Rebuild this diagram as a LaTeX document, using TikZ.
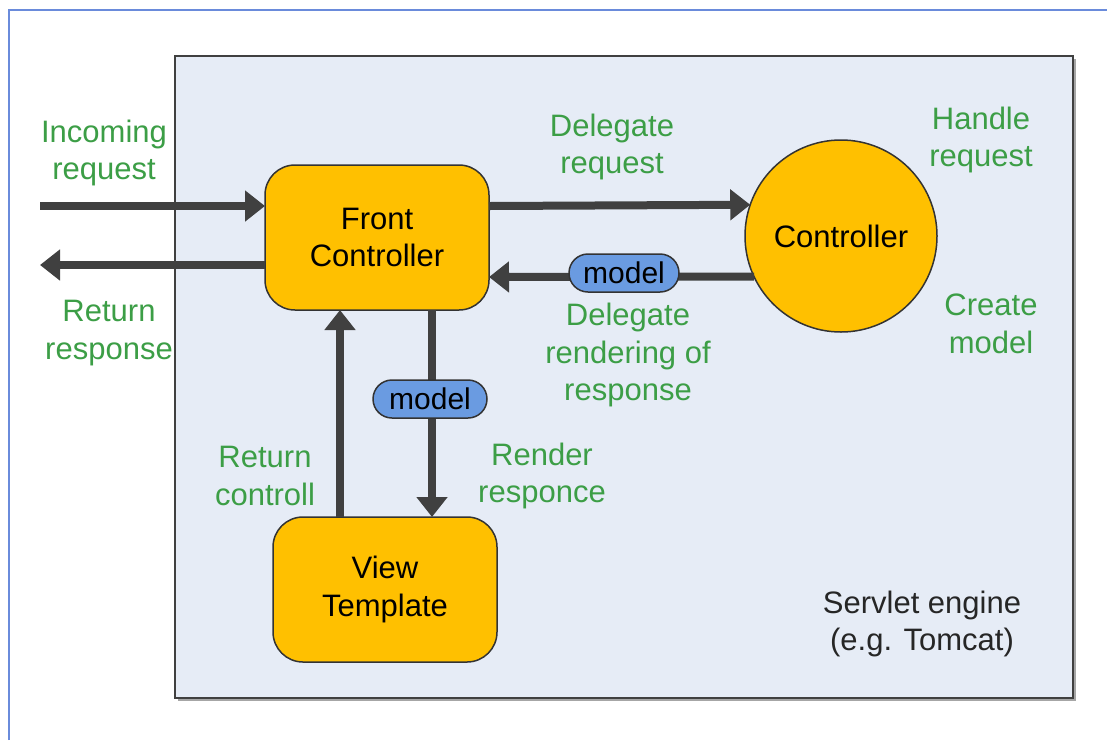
\documentclass[tikz,border=0pt]{standalone}
\usepackage{fontspec}
\setmainfont{Liberation Sans}
\usetikzlibrary{arrows.meta,calc}
\definecolor{frameblue}{RGB}{106,139,219}
\definecolor{boxfill}{RGB}{230,236,246}
\definecolor{orangefill}{RGB}{255,192,0}
\definecolor{pillblue}{RGB}{106,155,225}
\definecolor{arrowgray}{RGB}{64,64,64}
\definecolor{txtgreen}{RGB}{60,158,70}
\begin{document}
\begin{tikzpicture}[x=1pt,y=-1pt,
  every node/.style={font=\fontsize{31}{37.5}\selectfont, inner sep=0pt, outer sep=0pt},
  block/.style={draw=black!80, line width=1.5pt, fill=orangefill, rounded corners=30pt,
    minimum width=224pt, minimum height=145pt, align=center},
  ctrlcircle/.style={circle, draw=black!80, line width=1.5pt, fill=orangefill, minimum size=192pt},
  pill/.style={draw=black!80, line width=1.5pt, fill=pillblue, rounded corners=19pt,
    minimum height=38pt, font=\fontsize{30}{36}\selectfont},
  lbl/.style={text=txtgreen, align=center},
  note/.style={text=black!85, align=center},
  flow/.style={draw=arrowgray, line width=8pt, -{Triangle[length=20pt,width=30pt]}}
]
\useasboundingbox (0,0) rectangle (1107,740);
\fill[white] (0,0) rectangle (1107,740);
% outer frame
\draw[frameblue, line width=2.5pt] (9,740) -- (9,10) -- (1107,10);
% servlet engine box
\fill[black!35] (178,59) rectangle (1076,701);
\fill[boxfill] (175,56) rectangle (1073,698);

% nodes
\node[block] (fc) at (377,237.5) {Front\\Controller};
\node[ctrlcircle] (ctrl) at (841,236) {Controller};
\node[block] (vt) at (385,589.5) {View\\Template};

\coordinate (in) at (40,206);
\coordinate (out) at (40,265);

% arrows
\draw[flow] (in) -- (fc.west |- in);
\draw[flow] (fc.west |- out) -- (out);
\draw[flow] (fc.east |- 0,206) -- (ctrl.161.8);
\draw[flow] (ctrl.205.3) -- (fc.east |- 0,277);
\draw[flow] (fc.south -| 432,0) -- (vt.north -| 432,0);
\draw[flow] (vt.north -| 340,0) -- (fc.south -| 340,0);

% model pills
\node[pill, minimum width=110pt] (m1) at (624,273) {model};
\node[pill, minimum width=114pt] (m2) at (430,399) {model};

% box border on top
\draw[black!75, line width=1.5pt] (175,56) rectangle (1073,698);

% labels
\node[lbl] (l1) at (104,153) {Incoming\\request};
\node[lbl] (l2) at (109,333) {Return\\response};
\node[lbl] (l3) at (612,147) {Delegate\\request};
\node[lbl] (l4) at (981,140) {Handle\\request};
\node[lbl] (l5) at (991,324) {Create\\model};
\node[lbl] (l6) at (628,355) {Delegate\\rendering of\\response};
\node[lbl] (l7) at (265,476) {Return\\controll};
\node[lbl] (l8) at (542,476) {Render\\responce};
\node[note] (l9) at (922,624) {Servlet engine\\(e.g. Tomcat)};
\end{tikzpicture}
\end{document}
